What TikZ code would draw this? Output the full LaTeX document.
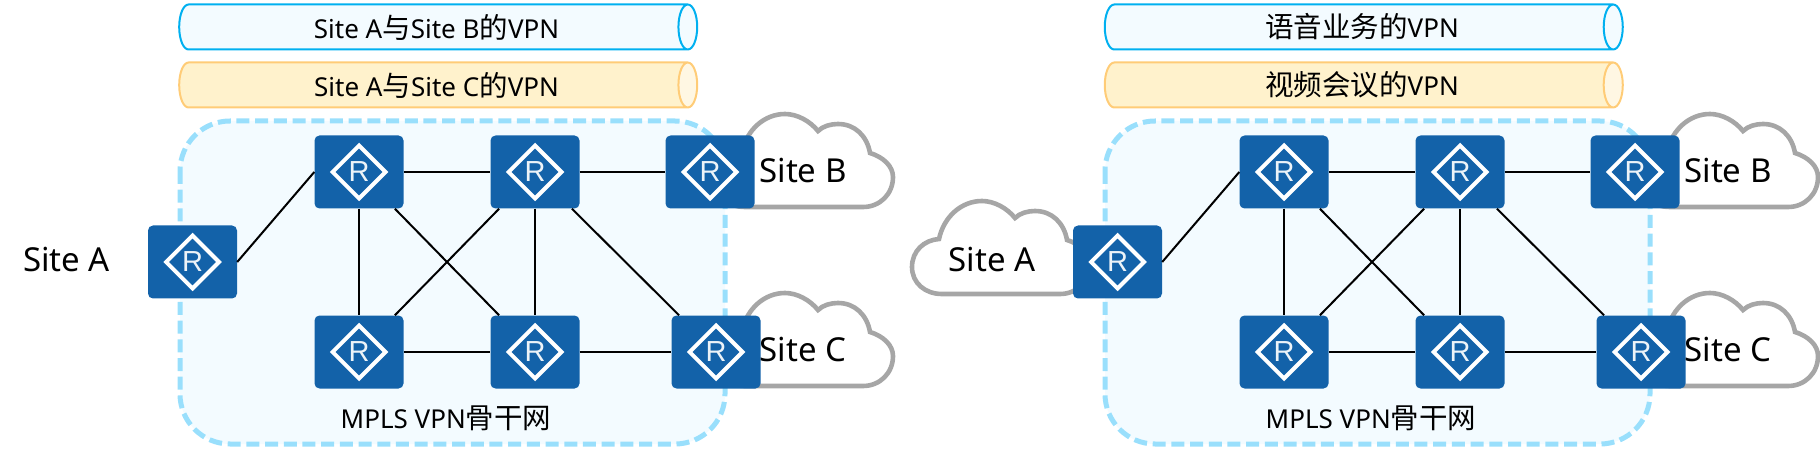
\documentclass[tikz,border=0pt]{standalone}
\usepackage{fontspec}
\setmainfont{Noto Sans}
\newfontfamily\cjk{Noto Sans CJK SC}
\newfontfamily\routerfont{Liberation Sans}
\newcommand{\zh}[1]{{\cjk\fontsize{28.5}{30}\selectfont #1}}
\usetikzlibrary{shapes.geometric,positioning}
\definecolor{routerblue}{HTML}{1362A9}
\definecolor{paleblue}{HTML}{F3FBFF}
\definecolor{dashblue}{HTML}{99DFFC}
\definecolor{tubeblue}{HTML}{00B0F0}
\definecolor{paleorange}{HTML}{FFF2CC}
\definecolor{endorange}{HTML}{FFF7E3}
\definecolor{tubeorange}{HTML}{FFCC77}
\definecolor{cloudgray}{HTML}{A6A6A6}
\tikzset{
	router/.style={rectangle,
		fill=routerblue,
		rounded corners=5pt,
		minimum width=89pt,
		minimum height=73pt,
		label={[routermark]center:R},
		},
	routermark/.style={diamond,
		draw=white,
		line width=4pt,
		minimum width=54.5pt,
		minimum height=54.5pt,
		inner sep=0pt,
		text=white!92!routerblue,
		font=\routerfont\fontsize{29}{29}\selectfont,
		},
	bluetube/.style={cylinder,
		shape border rotate=0,
		aspect=0.72,
		draw=tubeblue,
		line width=2pt,
		cylinder uses custom fill,
		cylinder body fill=paleblue,
		cylinder end fill=paleblue,
		minimum width=45pt,
		minimum height=518pt,
		inner sep=0pt,
		font=\fontsize{26}{28}\selectfont,
		execute at begin node=\hspace*{7pt},
		},
	orangetube/.style={bluetube,
		draw=tubeorange,
		cylinder body fill=paleorange,
		cylinder end fill=endorange,
		},
	sitelabel/.style={font=\fontsize{33}{36}\selectfont},
	backlabel/.style={font=\fontsize{26}{28}\selectfont},
	link/.style={line width=2pt},
	sitecloud/.pic={
		\draw[cloudgray, fill=white, line width=4.6pt] (27,38)
			.. controls (32,15) and (50,0) .. (70,0)
			.. controls (82,0) and (95,7) .. (103,17)
			.. controls (108,12) and (116,10) .. (123,10)
			.. controls (140,10) and (152,22) .. (155,39)
			.. controls (168,43) and (178,52) .. (178,63)
			.. controls (178,80) and (165,93) .. (148,93)
			-- (30,93)
			.. controls (13,93) and (0,82) .. (0,66)
			.. controls (0,50) and (12,39) .. (27,38) -- cycle;
	},
	backbone/.pic={
		\draw[dashblue, fill=paleblue, line width=5pt, dash pattern=on 13pt off 5.7pt, rounded corners=50pt]
			(180,121) rectangle (725,444);
		\pic at (715,114) {sitecloud};
		\pic at (715,293) {sitecloud};
		\node[router] (ra) at (192.5,262) {};
		\node[router] (r1) at (359,172) {};
		\node[router] (r2) at (359,352) {};
		\node[router] (r3) at (535,172) {};
		\node[router] (r4) at (535,352) {};
		\node[router] (r5) at (710,172) {};
		\node[router] (r6) at (716,352) {};
		\draw[link] (ra.east) -- (r1.west);
		\draw[link] (r1) -- (r3);
		\draw[link] (r3) -- (r5);
		\draw[link] (r2) -- (r4);
		\draw[link] (r4) -- (r6);
		\draw[link] (r1) -- (r2);
		\draw[link] (r3) -- (r4);
		\draw[link] (r1) -- (r4);
		\draw[link] (r2) -- (r3);
		\draw[link] (r3) -- (r6);
		\node[sitelabel] (siteb) at (803,171) {Site B};
		\node[sitelabel] (sitec) at (803,350) {Site C};
		\node[backlabel] (mpls) at (446,418) {MPLS VPN\zh{骨干网}};
	},
}
\begin{document}
\begin{tikzpicture}[x=1pt,y=-1pt]
	\useasboundingbox (0,0) rectangle (1820,454);

	% left panel
	\node[bluetube] (tubeab) at (433,27) {Site A\zh{与}Site B\zh{的}VPN};
	\node[orangetube] (tubeac) at (433,85) {Site A\zh{与}Site C\zh{的}VPN};
	\pic (left) at (0,0) {backbone};
	\node[sitelabel] (sitea) at (66.5,260) {Site A};

	% right panel
	\node[bluetube] (tubevoice) at (1358.5,27) {\zh{语音业务的}VPN};
	\node[orangetube] (tubevideo) at (1358.5,85) {\zh{视频会议的}VPN};
	\pic at (912,201) {sitecloud};
	\pic (right) at (925,0) {backbone};
	\node[sitelabel] (siteacloud) at (992,260) {Site A};
\end{tikzpicture}
\end{document}
